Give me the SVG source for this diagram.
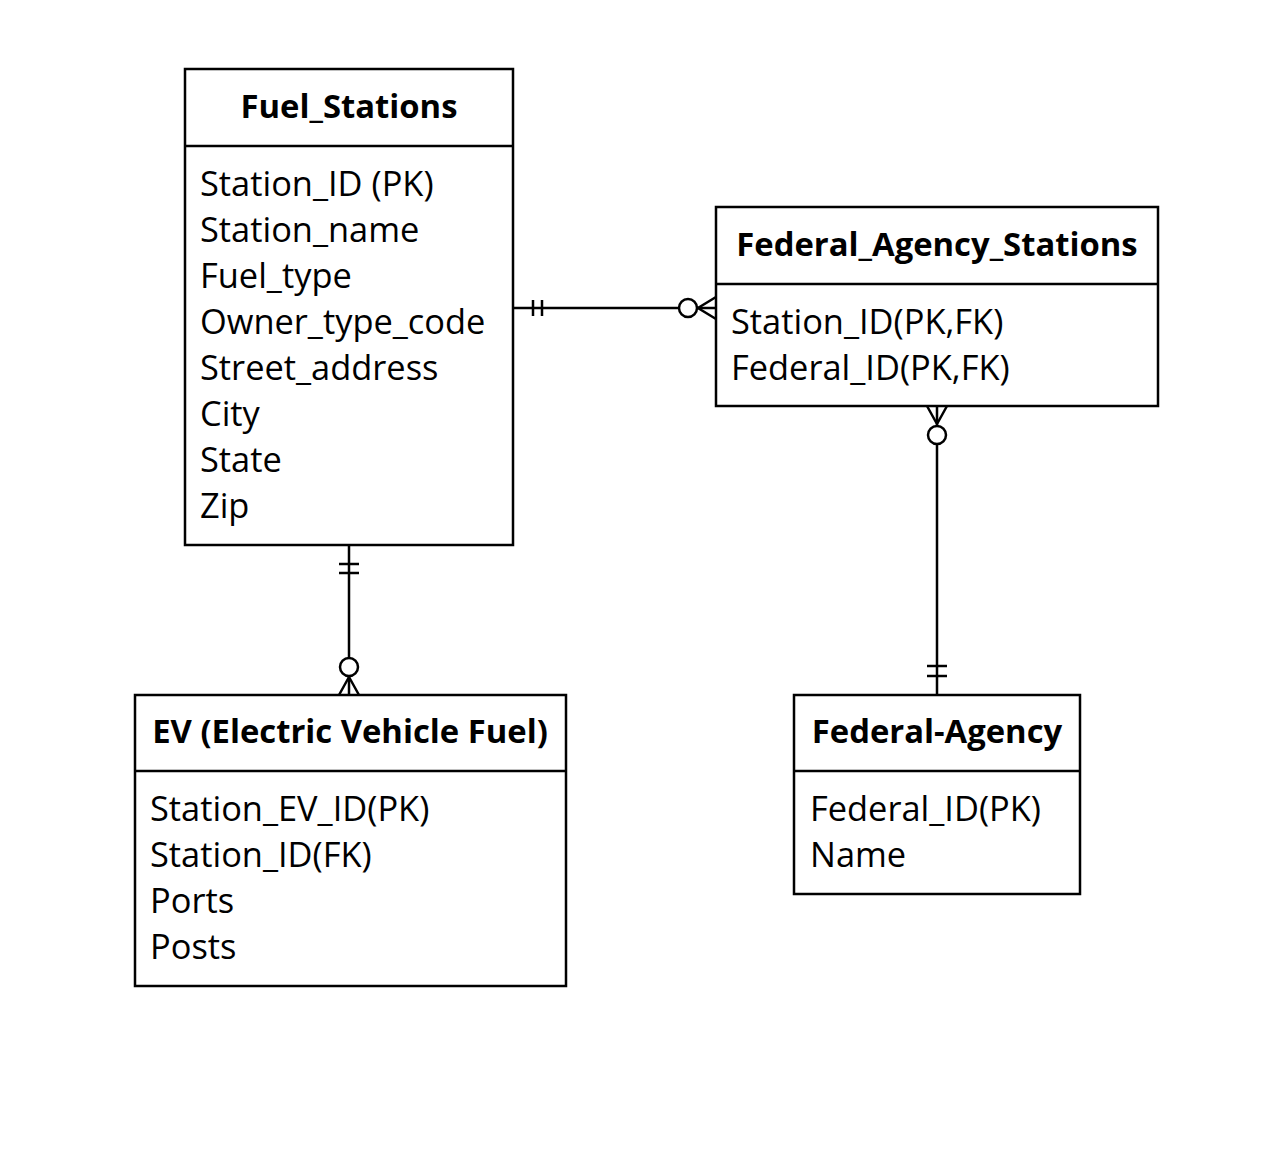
<svg xmlns="http://www.w3.org/2000/svg" width="1280" height="1155" viewBox="0 0 1280 1155">
<style>
.box{fill:#fff;stroke:#000;stroke-width:2.5}
.hd{font-family:"Open Sans","Liberation Sans",sans-serif;font-weight:bold;font-size:32.8px;text-anchor:middle;fill:#000}
.at{font-family:"Open Sans","Liberation Sans",sans-serif;font-size:34.4px;fill:#000}
.ln{fill:none;stroke:#000;stroke-width:2.5}
.cir{fill:#fff;stroke:#000;stroke-width:2.5}
</style>
<rect width="1280" height="1155" fill="#fff"/>
<g id="connectors">
<line class="ln" x1="513" y1="308" x2="716" y2="308"/>
<line class="ln" x1="533" y1="300" x2="533" y2="316"/>
<line class="ln" x1="542" y1="300" x2="542" y2="316"/>
<path class="ln" d="M716 297 L698 308 L716 319"/>
<circle class="cir" cx="688" cy="308" r="9"/>
<line class="ln" x1="937" y1="406" x2="937" y2="695"/>
<path class="ln" d="M927 406 L937 424 L947 406"/>
<circle class="cir" cx="937" cy="435" r="9"/>
<line class="ln" x1="927" y1="666" x2="947" y2="666"/>
<line class="ln" x1="927" y1="676" x2="947" y2="676"/>
<line class="ln" x1="349" y1="545" x2="349" y2="695"/>
<line class="ln" x1="339" y1="564" x2="359" y2="564"/>
<line class="ln" x1="339" y1="573" x2="359" y2="573"/>
<path class="ln" d="M339 695 L349 677 L359 695"/>
<circle class="cir" cx="349" cy="667" r="9"/>
</g>
<g id="fuel_stations">
<rect class="box" x="185" y="69" width="328" height="476"/>
<line class="ln" x1="185" y1="146" x2="513" y2="146"/>
<text class="hd" x="349" y="118">Fuel_Stations</text>
<text class="at" x="200" y="196">Station_ID (PK)</text>
<text class="at" x="200" y="242">Station_name</text>
<text class="at" x="200" y="288">Fuel_type</text>
<text class="at" x="200" y="334">Owner_type_code</text>
<text class="at" x="200" y="380">Street_address</text>
<text class="at" x="200" y="426">City</text>
<text class="at" x="200" y="472">State</text>
<text class="at" x="200" y="518">Zip</text>
</g>
<g id="federal_agency_stations">
<rect class="box" x="716" y="207" width="442" height="199"/>
<line class="ln" x1="716" y1="284" x2="1158" y2="284"/>
<text class="hd" x="937" y="256">Federal_Agency_Stations</text>
<text class="at" x="731" y="334">Station_ID(PK,FK)</text>
<text class="at" x="731" y="380">Federal_ID(PK,FK)</text>
</g>
<g id="ev">
<rect class="box" x="135" y="695" width="431" height="291"/>
<line class="ln" x1="135" y1="771" x2="566" y2="771"/>
<text class="hd" x="350" y="743">EV (Electric Vehicle Fuel)</text>
<text class="at" x="150" y="821">Station_EV_ID(PK)</text>
<text class="at" x="150" y="867">Station_ID(FK)</text>
<text class="at" x="150" y="913">Ports</text>
<text class="at" x="150" y="959">Posts</text>
</g>
<g id="federal_agency">
<rect class="box" x="794" y="695" width="286" height="199"/>
<line class="ln" x1="794" y1="771" x2="1080" y2="771"/>
<text class="hd" x="937" y="743">Federal-Agency</text>
<text class="at" x="810" y="821">Federal_ID(PK)</text>
<text class="at" x="810" y="867">Name</text>
</g>
</svg>
